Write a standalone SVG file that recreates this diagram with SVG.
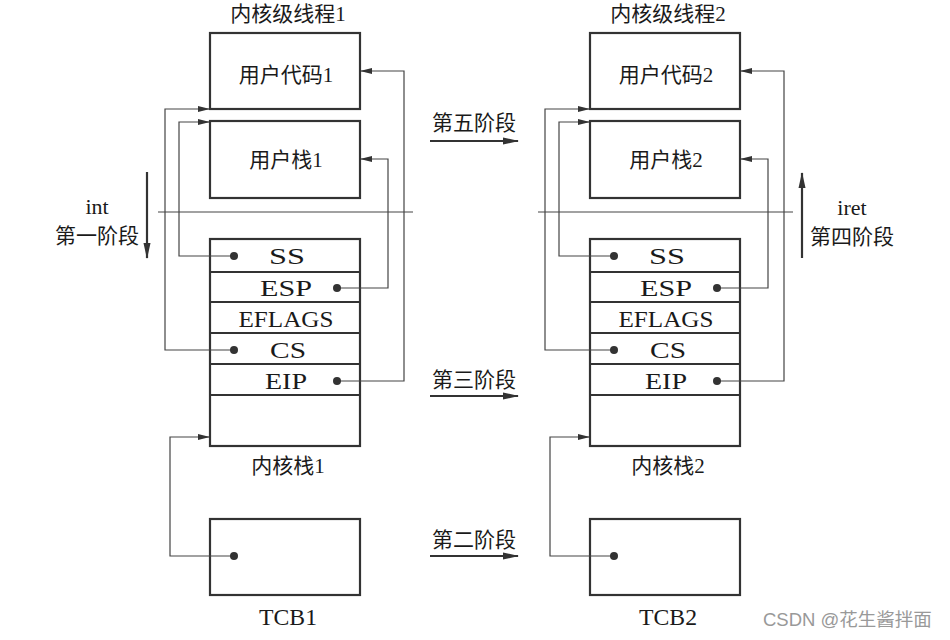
<svg xmlns="http://www.w3.org/2000/svg" width="950" height="640" viewBox="0 0 950 640">
<defs>
<marker id="ah" markerWidth="12" markerHeight="8" refX="11" refY="4" orient="auto" markerUnits="userSpaceOnUse">
<path d="M0,1 L12,4 L0,7 Z" fill="#333"/>
</marker>
<marker id="ahb" markerWidth="16" markerHeight="9" refX="15" refY="4.5" orient="auto" markerUnits="userSpaceOnUse">
<path d="M0,1 L16,4.5 L0,8 Z" fill="#333"/>
</marker>
<style>
.box{fill:#fff;stroke:#333;stroke-width:2.2}
.row{stroke:#333;stroke-width:2.2}
.t{font-family:"Liberation Serif","Noto Sans CJK SC",serif;font-size:21px;fill:#1a1a1a;text-anchor:middle;dominant-baseline:central}
.l{font-size:23px}
.c{fill:none;stroke:#444;stroke-width:1.2}
.dot{fill:#333}
.big{fill:none;stroke:#333;stroke-width:2.2}
</style>
</defs>
<rect width="950" height="640" fill="#fff"/>

<g id="divider">
<line class="c" x1="158" y1="212" x2="413" y2="212"/>
<line class="c" x1="538" y1="212" x2="793" y2="212"/>
</g>

<g id="thread1">
<text class="t" x="288" y="14">内核级线程1</text>
<g id="usercode1"><rect class="box" x="210" y="33" width="150" height="76"/><text class="t" x="286" y="75">用户代码1</text></g>
<g id="userstack1"><rect class="box" x="210" y="121" width="150" height="77"/><text class="t" x="286" y="160">用户栈1</text></g>
<g id="kstack1">
<rect class="box" x="210" y="239" width="150" height="207"/>
<line class="row" x1="210" y1="272" x2="360" y2="272"/>
<line class="row" x1="210" y1="302" x2="360" y2="302"/>
<line class="row" x1="210" y1="333" x2="360" y2="333"/>
<line class="row" x1="210" y1="364" x2="360" y2="364"/>
<line class="row" x1="210" y1="395" x2="360" y2="395"/>
<text class="t l" x="287" y="256" textLength="36" lengthAdjust="spacingAndGlyphs">SS</text>
<text class="t l" x="286" y="288" textLength="52" lengthAdjust="spacingAndGlyphs">ESP</text>
<text class="t l" x="286" y="319" textLength="95" lengthAdjust="spacingAndGlyphs">EFLAGS</text>
<text class="t l" x="288" y="350" textLength="36" lengthAdjust="spacingAndGlyphs">CS</text>
<text class="t l" x="286" y="381" textLength="42" lengthAdjust="spacingAndGlyphs">EIP</text>
<text class="t" x="288" y="466">内核栈1</text>
</g>
<g id="tcb1"><rect class="box" x="210" y="519" width="150" height="76"/><text class="t l" x="288" y="617" textLength="58" lengthAdjust="spacingAndGlyphs">TCB1</text></g>
</g>

<g id="thread2">
<text class="t" x="668" y="14">内核级线程2</text>
<g id="usercode2"><rect class="box" x="590" y="33" width="150" height="76"/><text class="t" x="666" y="75">用户代码2</text></g>
<g id="userstack2"><rect class="box" x="590" y="121" width="150" height="77"/><text class="t" x="666" y="160">用户栈2</text></g>
<g id="kstack2">
<rect class="box" x="590" y="239" width="150" height="207"/>
<line class="row" x1="590" y1="272" x2="740" y2="272"/>
<line class="row" x1="590" y1="302" x2="740" y2="302"/>
<line class="row" x1="590" y1="333" x2="740" y2="333"/>
<line class="row" x1="590" y1="364" x2="740" y2="364"/>
<line class="row" x1="590" y1="395" x2="740" y2="395"/>
<text class="t l" x="667" y="256" textLength="36" lengthAdjust="spacingAndGlyphs">SS</text>
<text class="t l" x="666" y="288" textLength="52" lengthAdjust="spacingAndGlyphs">ESP</text>
<text class="t l" x="666" y="319" textLength="95" lengthAdjust="spacingAndGlyphs">EFLAGS</text>
<text class="t l" x="668" y="350" textLength="36" lengthAdjust="spacingAndGlyphs">CS</text>
<text class="t l" x="666" y="381" textLength="42" lengthAdjust="spacingAndGlyphs">EIP</text>
<text class="t" x="668" y="466">内核栈2</text>
</g>
<g id="tcb2"><rect class="box" x="590" y="519" width="150" height="76"/><text class="t l" x="668" y="617" textLength="58" lengthAdjust="spacingAndGlyphs">TCB2</text></g>
</g>

<g id="connectors">
<polyline class="c" points="337,381 404,381 404,71 361,71" marker-end="url(#ah)"/>
<polyline class="c" points="337,288 388,288 388,159 361,159" marker-end="url(#ah)"/>
<polyline class="c" points="234,350 165,350 165,109 209,109" marker-end="url(#ah)"/>
<polyline class="c" points="234,256 179,256 179,122 209,122" marker-end="url(#ah)"/>
<polyline class="c" points="234,556 170,556 170,437 209,437" marker-end="url(#ah)"/>
<polyline class="c" points="717,381 784,381 784,71 741,71" marker-end="url(#ah)"/>
<polyline class="c" points="717,288 768,288 768,159 741,159" marker-end="url(#ah)"/>
<polyline class="c" points="614,350 545,350 545,109 589,109" marker-end="url(#ah)"/>
<polyline class="c" points="614,256 559,256 559,122 589,122" marker-end="url(#ah)"/>
<polyline class="c" points="614,556 550,556 550,437 589,437" marker-end="url(#ah)"/>
<circle class="dot" cx="234" cy="256" r="4"/>
<circle class="dot" cx="337" cy="288" r="4"/>
<circle class="dot" cx="234" cy="350" r="4"/>
<circle class="dot" cx="337" cy="381" r="4"/>
<circle class="dot" cx="234" cy="556" r="4"/>
<circle class="dot" cx="614" cy="256" r="4"/>
<circle class="dot" cx="717" cy="288" r="4"/>
<circle class="dot" cx="614" cy="350" r="4"/>
<circle class="dot" cx="717" cy="381" r="4"/>
<circle class="dot" cx="614" cy="556" r="4"/>
<line class="big" x1="430" y1="141" x2="518" y2="141" marker-end="url(#ahb)"/>
<line class="big" x1="430" y1="396" x2="518" y2="396" marker-end="url(#ahb)"/>
<line class="big" x1="430" y1="556" x2="518" y2="556" marker-end="url(#ahb)"/>
<line class="big" x1="147" y1="172" x2="147" y2="258" marker-end="url(#ahb)"/>
<line class="big" x1="802" y1="258" x2="802" y2="173" marker-end="url(#ahb)"/>
</g>

<g id="labels">
<text class="t" x="474" y="123">第五阶段</text>
<text class="t" x="474" y="380">第三阶段</text>
<text class="t" x="474" y="540">第二阶段</text>
<text class="t" x="97" y="206" style="font-size:22px">int</text>
<text class="t" x="97" y="236">第一阶段</text>
<text class="t" x="852" y="207" style="font-size:22px">iret</text>
<text class="t" x="852" y="237">第四阶段</text>
<text x="763" y="626" style="font-family:'Liberation Sans','Noto Sans CJK SC',sans-serif;font-size:18.5px;fill:#999">CSDN @花生酱拌面</text>
</g>
</svg>
